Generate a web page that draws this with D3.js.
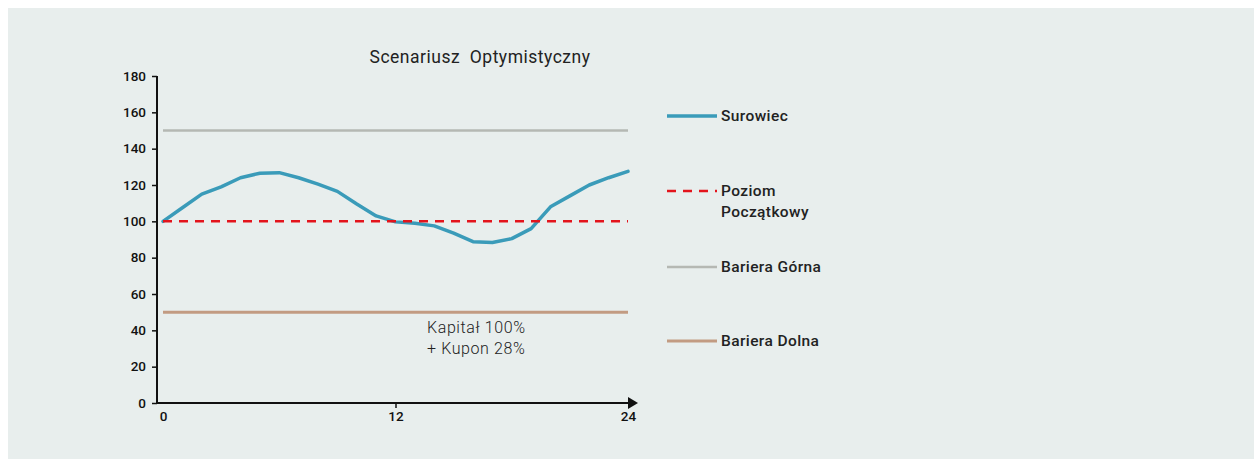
<!DOCTYPE html>
<html>
<head>
<meta charset="utf-8">
<script src="https://cdn.jsdelivr.net/npm/d3@7"></script>
<style>
  body { margin: 0; background: #fff; }
  svg { display: block; font-family: Roboto, "Noto Sans", sans-serif; }
</style>
</head>
<body>
<svg width="1254" height="459"></svg>
<script>
// data
var months = [0, 1, 2, 3, 4, 5, 6, 7, 8, 9, 10, 11, 12, 13, 14, 15, 16, 17, 18, 19, 20, 21, 22, 23, 24];
var surowiec = [100, 107.5, 115, 119, 124, 126.5, 126.8, 124, 120.5, 116.5, 109.5, 103, 99.7, 99, 97.5, 93.5, 88.8, 88.3, 90.5, 96, 108, 114, 120, 124, 127.5];
var poziomPoczatkowy = 100;
var barieraGorna = 150;
var barieraDolna = 50;
var yTicks = [0, 20, 40, 60, 80, 100, 120, 140, 160, 180];
var xTicks = [0, 12, 24];
var legendLabels = [["Surowiec"], ["Poziom", "Początkowy"], ["Bariera Górna"], ["Bariera Dolna"]];
var noteLines = ["Kapitał 100%", "+ Kupon 28%"];

var svg = d3.select("svg"),
    width = +svg.attr("width"),
    height = +svg.attr("height");

var colors = {
    line: "#3a9bb9",
    start: "#e3141c",
    upper: "#b5b8b3",
    lower: "#c29b82"
};

svg.append("rect")
    .attr("x", 8)
    .attr("y", 8)
    .attr("width", width - 8)
    .attr("height", height - 8)
    .attr("fill", "#e8eeed");

var x = d3.scaleLinear().domain([0, 24]).range([163, 628]);
var y = d3.scaleLinear().domain([0, 180]).range([403, 76]);

// title
svg.append("text")
    .attr("x", 480)
    .attr("y", 63)
    .attr("text-anchor", "middle")
    .attr("font-size", 17.5)
    .attr("font-weight", 400)
    .attr("letter-spacing", 0.5)
    .attr("fill", "#222")
    .attr("xml:space", "preserve")
    .text("Scenariusz  Optymistyczny");

// y axis
var yAxis = svg.append("g")
    .attr("transform", "translate(157,0)")
    .call(d3.axisLeft(y).tickValues(yTicks).tickSize(5).tickPadding(6));
yAxis.select(".domain").attr("stroke", "#111").attr("stroke-width", 2).attr("d", "M0," + y(180) + "V" + y(0));
yAxis.selectAll(".tick line").attr("stroke", "#111").attr("stroke-width", 1.5);
yAxis.selectAll(".tick text")
    .attr("font-size", 13.5)
    .attr("font-weight", 500)
    .attr("font-family", "Roboto, sans-serif")
    .attr("fill", "#111");

// x axis
var xAxis = svg.append("g")
    .attr("transform", "translate(0," + y(0) + ")")
    .call(d3.axisBottom(x).tickValues(xTicks).tickSize(5).tickPadding(3));
xAxis.select(".domain").attr("stroke", "#111").attr("stroke-width", 2).attr("d", "M157,0H630");
xAxis.selectAll(".tick line").attr("stroke", "#111").attr("stroke-width", 1.5);
xAxis.selectAll(".tick").filter(function (d) { return d !== 12; }).select("line").remove();
xAxis.selectAll(".tick text")
    .attr("font-size", 13.5)
    .attr("font-weight", 500)
    .attr("font-family", "Roboto, sans-serif")
    .attr("fill", "#111");
svg.append("path")
    .attr("d", "M628," + (y(0) - 6) + "L638," + y(0) + "L628," + (y(0) + 6) + "Z")
    .attr("fill", "#111");

// horizontal levels
function hline(val, color, dash, w) {
    svg.append("line")
        .attr("x1", x(0))
        .attr("x2", x(24))
        .attr("y1", y(val))
        .attr("y2", y(val))
        .attr("stroke", color)
        .attr("stroke-width", w)
        .attr("stroke-dasharray", dash);
}
hline(barieraGorna, colors.upper, null, 2.5);
hline(barieraDolna, colors.lower, null, 3);

var line = d3.line()
    .x(function (d, i) { return x(months[i]); })
    .y(function (d) { return y(d); });

svg.append("path")
    .datum(surowiec)
    .attr("d", line)
    .attr("fill", "none")
    .attr("stroke", colors.line)
    .attr("stroke-width", 3.5)
    .attr("stroke-linejoin", "round")
    .attr("stroke-linecap", "round");

hline(poziomPoczatkowy, colors.start, "9,7", 2.5);

// note
svg.append("text")
    .attr("x", 427)
    .attr("y", 333)
    .attr("font-size", 16)
    .attr("font-weight", 300)
    .attr("letter-spacing", 0.6)
    .attr("fill", "#222")
    .selectAll("tspan")
    .data(noteLines)
    .enter().append("tspan")
    .attr("x", 427)
    .attr("dy", function (d, i) { return i ? 21 : 0; })
    .text(function (d) { return d; });

// legend
var legendY = [116, 191, 267, 341];
var legendStyle = [
    { c: colors.line, dash: null, w: 3.5 },
    { c: colors.start, dash: "9,7", w: 2.5 },
    { c: colors.upper, dash: null, w: 2.5 },
    { c: colors.lower, dash: null, w: 3 }
];

var legend = svg.append("g")
    .selectAll("g")
    .data(legendLabels)
    .enter().append("g")
    .attr("transform", function (d, i) { return "translate(667," + legendY[i] + ")"; });

legend.append("line")
    .attr("x1", 0)
    .attr("x2", 50)
    .attr("stroke", function (d, i) { return legendStyle[i].c; })
    .attr("stroke-width", function (d, i) { return legendStyle[i].w; })
    .attr("stroke-dasharray", function (d, i) { return legendStyle[i].dash; });

legend.append("text")
    .attr("x", 54)
    .attr("y", 5)
    .attr("font-size", 15.5)
    .attr("font-weight", 500)
    .attr("letter-spacing", 0.4)
    .attr("fill", "#222")
    .selectAll("tspan")
    .data(function (d) { return d; })
    .enter().append("tspan")
    .attr("x", 54)
    .attr("dy", function (d, i) { return i ? 21 : 0; })
    .text(function (d) { return d; });
</script>
</body>
</html>
